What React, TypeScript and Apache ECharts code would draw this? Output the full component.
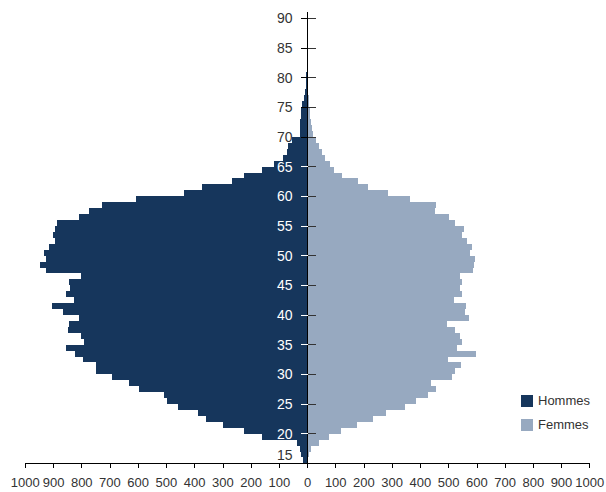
import React, { useEffect, useRef } from "react";
import * as echarts from "echarts";

const ages: number[] = [];
for (let a = 15; a <= 90; a++) ages.push(a);

// Hommes, ages 15..90
const hommes = [
  17, 22, 28, 36, 162, 224, 299, 358, 387, 459,
  497, 509, 596, 634, 693, 750, 748, 795, 823, 856,
  792, 804, 847, 844, 811, 865, 905, 828, 856, 842,
  844, 802, 925, 949, 927, 933, 915, 896, 903, 894,
  887, 809, 776, 728, 608, 436, 375, 268, 224, 162,
  119, 88, 72, 69, 55, 27, 27, 27, 23, 23,
  19, 13, 9, 4, 5, 4, 0, 0, 0, 0,
  0, 0, 0, 0, 0, 0,
];

// Femmes, ages 15..90
const femmes = [
  2, 5, 12, 40, 75, 119, 175, 232, 279, 345,
  383, 428, 456, 437, 513, 524, 543, 499, 598, 529,
  548, 541, 524, 494, 574, 558, 562, 520, 546, 539,
  546, 539, 588, 590, 595, 576, 584, 565, 548, 555,
  522, 503, 451, 456, 364, 284, 215, 178, 122, 93,
  78, 63, 50, 40, 30, 20, 17, 13, 10, 9,
  5, 4, 3, 2, 1, 1, 0, 0, 0, 0,
  0, 0, 0, 0, 0, 0,
];

const ageTicks = [15, 20, 25, 30, 35, 40, 45, 50, 55, 60, 65, 70, 75, 80, 85, 90];
const whiteTicks = [20, 25, 30, 35, 40, 45, 50, 55, 60, 65];
const blackTicks = [70, 75, 80, 85, 90];
const rightTicks = [20, 25, 30, 35, 40, 45, 50, 55, 60, 65, 70, 75, 80, 85, 90];

const FONT = "'Liberation Sans', Arial, sans-serif";
const DARK = "#16365c";
const LIGHT = "#97a9c0";
const TEXT = "#333333";
const FS = 13;
const FS_Y = 14;

const GRID_LEFT = 25.3;
const GRID_RIGHT = 16.3;
const W = 606;
const H = 492;

export default function App() {
  const ref = useRef<HTMLDivElement>(null);
  useEffect(() => {
    document.body.style.margin = "0";
    if (!ref.current) return;
    const chart = echarts.init(ref.current, undefined, { renderer: "svg" });
    const mid = (W - GRID_LEFT - GRID_RIGHT) / 2;
    const valueAxisBase = {
      type: "value" as const,
      min: 15,
      max: 91,
      interval: 5,
      position: "left" as const,
      offset: -mid,
      splitLine: { show: false },
      z: 10,
    };
    chart.setOption({
      animation: false,
      textStyle: { fontFamily: FONT },
      grid: {
        left: GRID_LEFT,
        right: GRID_RIGHT,
        top: 12.3,
        bottom: 28.6,
        containLabel: false,
        outerBoundsMode: "none",
      },
      legend: {
        orient: "vertical",
        left: 521,
        top: 394,
        padding: 0,
        itemWidth: 12,
        itemHeight: 12,
        itemGap: 11,
        icon: "rect",
        selectedMode: false,
        textStyle: { fontSize: FS, color: TEXT, fontFamily: FONT },
        data: ["Hommes", "Femmes"],
      },
      xAxis: {
        type: "value",
        min: -1000,
        max: 1000,
        interval: 100,
        splitLine: { show: false },
        axisLine: { show: true, onZero: false, lineStyle: { color: "#000", width: 1 } },
        axisTick: { show: true, length: 5, lineStyle: { color: "#000" } },
        axisLabel: {
          formatter: (v: number) => String(Math.abs(v)),
          fontSize: FS,
          color: TEXT,
          margin: 13,
          fontFamily: FONT,
          showMinLabel: true,
          showMaxLabel: true,
          hideOverlap: false,
        },
      },
      yAxis: [
        {
          type: "category",
          data: ages.map(String),
          show: false,
          axisLine: { onZero: false },
        },
        {
          ...valueAxisBase,
          axisLine: { show: true, onZero: false, lineStyle: { color: "#000", width: 1 } },
          axisTick: { show: true, length: 7, customValues: whiteTicks, lineStyle: { color: "#ffffff" } },
          axisLabel: {
            customValues: ageTicks,
            margin: 15,
            fontSize: FS_Y,
            fontFamily: FONT,
            formatter: (v: number) => (Number(v) === 15 ? "{low|15}" : String(v)),
            color: (v: any) => {
              const n = Number(v);
              return n >= 20 && n <= 65 ? "#ffffff" : TEXT;
            },
            rich: {
              low: { padding: [0, 0, 16, 0], color: TEXT, fontSize: FS_Y, fontFamily: FONT },
            },
          },
        },
        {
          ...valueAxisBase,
          axisLine: { show: false, onZero: false },
          axisTick: { show: true, length: 7, customValues: blackTicks, lineStyle: { color: "#000" } },
          axisLabel: { show: false },
        },
        {
          ...valueAxisBase,
          axisLine: { show: false, onZero: false },
          axisTick: { show: true, inside: true, length: 8, customValues: rightTicks, lineStyle: { color: "#333" } },
          axisLabel: { show: false },
        },
      ],
      series: [
        {
          name: "Hommes",
          type: "bar",
          stack: "pyr",
          yAxisIndex: 0,
          barCategoryGap: "0%",
          barWidth: "100%",
          itemStyle: { color: DARK },
          data: hommes.map((v) => -v),
          silent: true,
        },
        {
          name: "Femmes",
          type: "bar",
          stack: "pyr",
          yAxisIndex: 0,
          barCategoryGap: "0%",
          barWidth: "100%",
          itemStyle: { color: LIGHT },
          data: femmes,
          silent: true,
        },
      ],
    });
    return () => chart.dispose();
  }, []);
  return (
    <div id="pyramid" style={{ width: W, height: H }}>
      <style>{"#pyramid-chart svg path, #pyramid-chart svg rect { shape-rendering: crispEdges; }"}</style>
      <div id="pyramid-chart" ref={ref} style={{ width: W, height: H }} />
    </div>
  );
}
